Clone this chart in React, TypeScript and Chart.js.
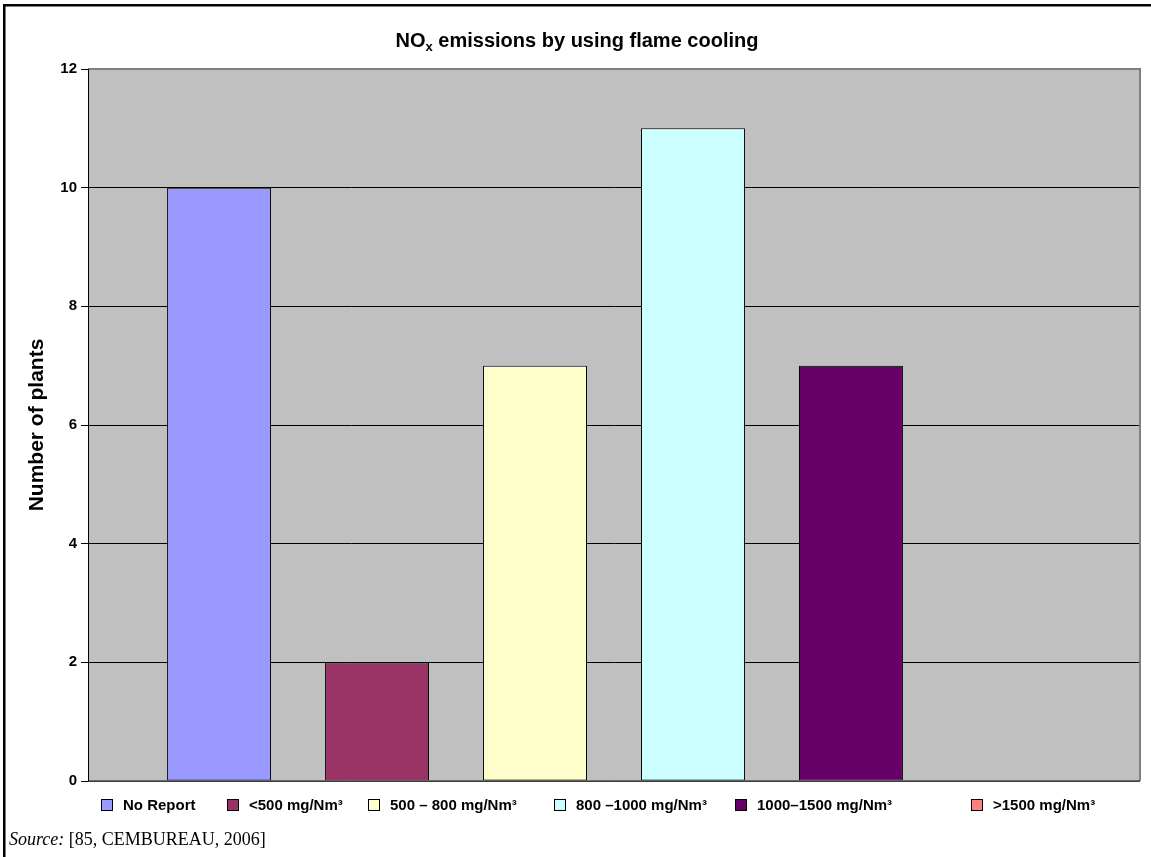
import React, { useEffect, useRef } from 'react';
import { Chart, registerables } from 'chart.js';

Chart.register(...registerables);

// ---- data ----
const categories = ['No Report', '<500 mg/Nm³', '500 – 800 mg/Nm³', '800 –1000 mg/Nm³', '1000–1500 mg/Nm³', '>1500 mg/Nm³'];
const plantCounts = [10, 2, 7, 11, 7, 0];
const seriesColors = ['#9999FF', '#993366', '#FFFFCC', '#CCFFFF', '#660066', '#FF8080'];
const yTickValues = [0, 2, 4, 6, 8, 10, 12];
const titleMain = 'NO';
const titleSub = 'x';
const titleRest = ' emissions by using flame cooling';
const yAxisTitle = 'Number of plants';
const sourceLabel = 'Source:';
const sourceText = ' [85, CEMBUREAU, 2006]';

const SANS = '"Liberation Sans", Arial, Helvetica, sans-serif';
const SERIF = '"Liberation Serif", "Times New Roman", Times, serif';

// legend layout (box left edges)
const LEGEND_X = [101, 227, 368, 554, 735, 971];

const decorPlugin = {
  id: 'decor',
  beforeDraw(chart: any) {
    const { ctx, chartArea: a } = chart;
    ctx.save();
    ctx.fillStyle = '#ffffff';
    ctx.fillRect(0, 0, chart.width, chart.height);
    ctx.fillStyle = '#C0C0C0';
    ctx.fillRect(a.left, a.top, a.right - a.left, a.bottom - a.top);
    ctx.restore();
  },
  afterDatasetsDraw(chart: any) {
    const { ctx, chartArea: a } = chart;
    ctx.save();
    ctx.strokeStyle = '#808080';
    ctx.lineWidth = 2;
    ctx.beginPath();
    ctx.moveTo(a.left, a.top);
    ctx.lineTo(a.right, a.top);
    ctx.lineTo(a.right, a.bottom);
    ctx.stroke();
    ctx.strokeStyle = '#505050';
    ctx.lineWidth = 1.5;
    ctx.beginPath();
    ctx.moveTo(a.left, a.bottom);
    ctx.lineTo(a.right, a.bottom);
    ctx.stroke();
    ctx.strokeStyle = '#000';
    ctx.lineWidth = 1;
    ctx.beginPath();
    ctx.moveTo(a.left + 0.5, a.top);
    ctx.lineTo(a.left + 0.5, a.bottom);
    ctx.stroke();
    ctx.restore();
  },
  afterDraw(chart: any) {
    const { ctx } = chart;
    ctx.save();
    // outer frame (top and left)
    ctx.fillStyle = '#000';
    ctx.fillRect(3, 4, chart.width - 3, 2.5);
    ctx.fillRect(3, 4, 2.5, chart.height - 4);

    // title with subscript
    const cx = 577;
    const base = 47;
    ctx.fillStyle = '#000';
    ctx.textBaseline = 'alphabetic';
    ctx.textAlign = 'left';
    ctx.font = `bold 20px ${SANS}`;
    const w1 = ctx.measureText(titleMain).width;
    const w3 = ctx.measureText(titleRest).width;
    ctx.font = `bold 13px ${SANS}`;
    const w2 = ctx.measureText(titleSub).width;
    const x = cx - (w1 + w2 + w3) / 2;
    ctx.font = `bold 20px ${SANS}`;
    ctx.fillText(titleMain, x, base);
    ctx.font = `bold 13px ${SANS}`;
    ctx.fillText(titleSub, x + w1, base + 4);
    ctx.font = `bold 20px ${SANS}`;
    ctx.fillText(titleRest, x + w1 + w2, base);

    // legend
    ctx.font = `bold 15px ${SANS}`;
    ctx.textBaseline = 'middle';
    const ly = 805;
    chart.data.datasets.forEach((ds: any, i: number) => {
      const lx = LEGEND_X[i];
      ctx.fillStyle = ds.backgroundColor;
      ctx.fillRect(lx, ly - 6, 12, 12);
      ctx.strokeStyle = '#000';
      ctx.lineWidth = 1;
      ctx.strokeRect(lx + 0.5, ly - 5.5, 11, 11);
      ctx.fillStyle = '#000';
      ctx.fillText(ds.label, lx + 22, ly + 1);
    });

    // source
    ctx.textBaseline = 'alphabetic';
    ctx.font = `italic 18px ${SERIF}`;
    ctx.fillText(sourceLabel, 9, 845);
    const sw = ctx.measureText(sourceLabel).width;
    ctx.font = `18px ${SERIF}`;
    ctx.fillText(sourceText, 9 + sw, 845);
    ctx.restore();
  },
};

export default function App() {
  const canvasRef = useRef<HTMLCanvasElement | null>(null);

  useEffect(() => {
    const canvas = canvasRef.current;
    if (!canvas) return;
    const chart = new Chart(canvas, {
      type: 'bar',
      data: {
        labels: ['NOx'],
        datasets: categories.map((c, i) => ({
          label: c,
          data: [plantCounts[i]],
          backgroundColor: seriesColors[i],
          borderColor: '#000',
          borderWidth: plantCounts[i] === 0 ? 0 : 1,
          borderSkipped: false,
        })),
      },
      options: {
        responsive: false,
        animation: false,
        events: [],
        layout: { padding: { top: 69, right: 11, bottom: 76, left: 0 } },
        datasets: { bar: { categoryPercentage: 0.901, barPercentage: 0.658 } },
        plugins: {
          legend: { display: false },
          title: { display: false },
          tooltip: { enabled: false },
        },
        scales: {
          x: { type: 'category', display: false, offset: true },
          y: {
            min: 0,
            max: 12,
            afterBuildTicks: (s: any) => {
              s.ticks = yTickValues.map((v) => ({ value: v }));
            },
            afterFit: (s: any) => {
              s.width = 88;
            },
            ticks: {
              color: '#000',
              font: { family: SANS, size: 15, weight: 'bold' },
              padding: 4,
            },
            grid: { color: '#000', lineWidth: 1, tickLength: 7, tickColor: '#000' },
            border: { display: true, color: '#000' },
            title: {
              display: true,
              text: yAxisTitle,
              color: '#000',
              font: { family: SANS, size: 21, weight: 'bold' },
              padding: { top: 25, bottom: 0 },
            },
          },
        },
      },
      plugins: [decorPlugin],
    } as any);
    return () => chart.destroy();
  }, []);

  return (
    <div style={{ position: 'absolute', left: 0, top: 0, width: 1151, height: 857 }}>
      <canvas ref={canvasRef} width={1151} height={857} style={{ display: 'block' }} />
    </div>
  );
}
